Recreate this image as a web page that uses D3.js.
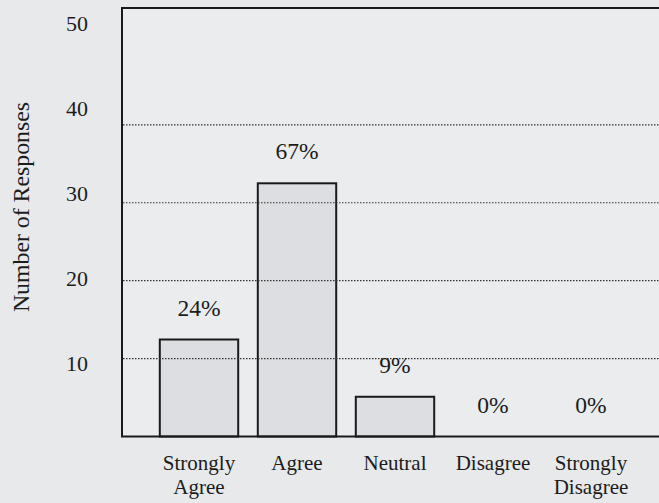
<!DOCTYPE html>
<html>
<head>
<meta charset="utf-8">
<script src="https://cdn.jsdelivr.net/npm/d3@7"></script>
<style>
  html, body { margin: 0; padding: 0; background: #e7e9eb; }
  svg { display: block; }
  svg text { font-family: "Liberation Serif", "DejaVu Serif", serif !important; fill: #1c1c1c; }
</style>
</head>
<body>
<svg id="chart" width="659" height="503"></svg>
<script>
// ---- data ----
const categories = ["Strongly Agree", "Agree", "Neutral", "Disagree", "Strongly Disagree"];
const categoryLines = [["Strongly", "Agree"], ["Agree"], ["Neutral"], ["Disagree"], ["Strongly", "Disagree"]];
const responses = [12.45, 32.5, 5.1, 0, 0];
const percentLabels = ["24%", "67%", "9%", "0%", "0%"];
const gridValues = [10, 20, 30, 40];
const tickLabels = [10, 20, 30, 40, 50];
const yTitle = "Number of Responses";

// ---- layout ----
const W = 659, H = 503;
const plotLeft = 122, plotRight = 659, plotTop = 8, plotBottom = 436.5;
const SERIF = "'Liberation Serif', 'DejaVu Serif', serif";

const svg = d3.select("#chart");

// background
svg.append("rect").attr("x", 0).attr("y", 0).attr("width", W).attr("height", H).attr("fill", "#e7e9eb");
svg.append("rect").attr("x", plotLeft).attr("y", plotTop).attr("width", plotRight - plotLeft).attr("height", plotBottom - plotTop).attr("fill", "#eaecee");

const y = d3.scaleLinear().domain([0, 55]).range([plotBottom, plotTop]);
// tick labels in the original are spaced slightly differently from the gridlines
const yLab = d3.scaleLinear().domain([0, 50]).range([448, 23]);
const x = d3.scaleBand().domain(categories).range([150, 640]).paddingInner(0.2).paddingOuter(0.1);

// bars
svg.append("g").selectAll("rect").data(categories).join("rect")
  .attr("x", d => x(d))
  .attr("y", (d, i) => y(responses[i]))
  .attr("width", x.bandwidth())
  .attr("height", (d, i) => y(0) - y(responses[i]))
  .attr("fill", "#dcdee1")
  .attr("stroke", "#1a1a1a")
  .attr("stroke-width", 2)
  .attr("display", (d, i) => responses[i] > 0 ? null : "none");

// gridlines (dotted, drawn over bars)
svg.append("g").selectAll("line").data(gridValues).join("line")
  .attr("x1", plotLeft + 1).attr("x2", plotRight)
  .attr("y1", d => y(d)).attr("y2", d => y(d))
  .attr("stroke", "#333")
  .attr("stroke-width", 1.2)
  .attr("stroke-dasharray", "1.5,1.5");

// frame: left, top, bottom
const frame = svg.append("g").attr("stroke", "#1a1a1a").attr("stroke-width", 2);
frame.append("line").attr("x1", plotLeft).attr("x2", plotLeft).attr("y1", plotTop).attr("y2", plotBottom);
frame.append("line").attr("x1", plotLeft - 1).attr("x2", plotRight).attr("y1", plotTop).attr("y2", plotTop);
frame.append("line").attr("x1", plotLeft - 1).attr("x2", plotRight).attr("y1", plotBottom).attr("y2", plotBottom);

// y tick labels
const yAxis = d3.axisLeft(yLab).tickValues(tickLabels).tickSize(0).tickPadding(0).tickFormat(d3.format("d"));
const gy = svg.append("g").attr("transform", "translate(88,0)").call(yAxis)
  .attr("font-family", SERIF).attr("font-size", 22);
gy.select(".domain").remove();
gy.selectAll("text").style("font-family", SERIF).attr("font-size", 22).attr("fill", "#1c1c1c").attr("dy", "0.34em");

// y title
svg.append("text")
  .attr("transform", `translate(29,${(101 + 313) / 2}) rotate(-90)`)
  .attr("text-anchor", "middle")
  .style("font-family", SERIF)
  .attr("font-size", 23.8)
  .text(yTitle);

// percent labels
svg.append("g").selectAll("text").data(categories).join("text")
  .attr("x", d => x(d) + x.bandwidth() / 2)
  .attr("y", (d, i) => y(responses[i]) - 24)
  .attr("text-anchor", "middle")
  .style("font-family", SERIF)
  .attr("font-size", 23.5)
  .text((d, i) => percentLabels[i]);

// category labels
const cat = svg.append("g").selectAll("text").data(categories).join("text")
  .attr("text-anchor", "middle")
  .style("font-family", SERIF)
  .attr("font-size", 21);
cat.each(function(d, i) {
  const t = d3.select(this);
  categoryLines[i].forEach((line, j) => {
    t.append("tspan")
      .attr("x", x(d) + x.bandwidth() / 2)
      .attr("y", 470 + j * 23.5)
      .text(line);
  });
});
</script>
</body>
</html>
